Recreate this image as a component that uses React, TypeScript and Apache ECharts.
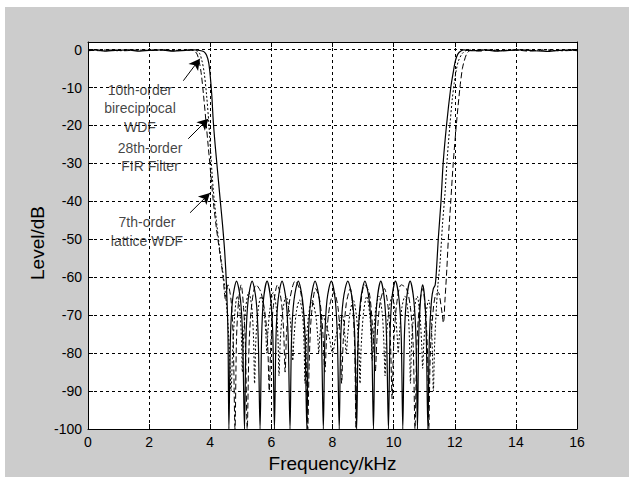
import { useEffect, useRef } from "react";
import * as echarts from "echarts";

// Frequency (kHz) / Level (dB) pairs
const solidCurve: [number, number][] = [
  [0, -0.3], [0.3, -0.1], [0.6, -0.4], [0.9, -0.2], [1.3, -0.1], [1.7, -0.4], [2.0, -0.2], [2.4, -0.1],
  [2.8, -0.4], [3.2, -0.2], [3.5, -0.1], [3.7, -0.3], [3.8, -0.6], [3.88, -1.5], [3.95, -3.5], [4.0, -7],
  [4.05, -12], [4.1, -19], [4.17, -26], [4.25, -33], [4.33, -40], [4.4, -46], [4.47, -53], [4.53, -62],
  [4.58, -75], [4.61, -100],
  [4.66, -76], [4.73, -66], [4.86, -61], [4.99, -66], [5.06, -76], [5.12, -100],
  [5.17, -76], [5.24, -66], [5.37, -61], [5.5, -66], [5.57, -76], [5.63, -100],
  [5.68, -76], [5.74, -66], [5.86, -61], [5.98, -66], [6.05, -76], [6.1, -100],
  [6.15, -76], [6.22, -66], [6.35, -61], [6.48, -66], [6.55, -76], [6.61, -100],
  [6.66, -76], [6.74, -66], [6.88, -61], [7.02, -66], [7.1, -76], [7.16, -100],
  [7.21, -76], [7.29, -66], [7.43, -61], [7.57, -66], [7.64, -76], [7.7, -100],
  [7.75, -76], [7.82, -66], [7.96, -61], [8.09, -66], [8.16, -76], [8.22, -100],
  [8.27, -76], [8.35, -66], [8.5, -61], [8.65, -66], [8.73, -76], [8.79, -100],
  [8.84, -76], [8.92, -66], [9.06, -61], [9.2, -66], [9.28, -76], [9.34, -100],
  [9.39, -76], [9.46, -66], [9.58, -61], [9.7, -66], [9.77, -76], [9.83, -100],
  [9.88, -76], [9.94, -66], [10.06, -61], [10.18, -66], [10.25, -76], [10.3, -100],
  [10.35, -76], [10.42, -66], [10.54, -61], [10.66, -66], [10.73, -76], [10.78, -100],
  [10.82, -76], [10.88, -66], [10.95, -62], [11.02, -66], [11.07, -76], [11.12, -100],
  [11.17, -76], [11.24, -66], [11.3, -63], [11.36, -62], [11.41, -57], [11.46, -50], [11.55, -40],
  [11.62, -30], [11.73, -20], [11.87, -10], [11.95, -6], [12.02, -3], [12.1, -1.2], [12.2, -0.4],
  [12.3, -0.1], [12.6, -0.3], [13.0, -0.1], [13.4, -0.4], [13.8, -0.2], [14.2, -0.1], [14.6, -0.3],
  [15.0, -0.5], [15.4, -0.2], [15.8, -0.1], [16, -0.3],
];

const dashedCurve: [number, number][] = [
  [0, -0.1], [0.4, -0.3], [0.8, -0.1], [1.2, -0.3], [1.6, -0.1], [2.0, -0.2], [2.4, -0.1], [2.8, -0.3],
  [3.1, -0.2], [3.35, -0.1], [3.45, -0.3], [3.55, -0.9], [3.62, -2.5], [3.7, -6], [3.78, -12],
  [3.86, -19], [3.94, -26], [4.02, -33], [4.1, -40], [4.2, -47], [4.32, -54], [4.42, -60], [4.5, -66],
  [4.58, -62], [4.68, -66], [4.75, -76], [4.81, -100], [4.86, -76], [4.93, -66], [5.01, -62], [5.09, -68],
  [5.15, -78], [5.21, -100], [5.27, -78], [5.36, -67], [5.5, -62], [5.66, -64], [5.8, -70], [5.88, -78],
  [5.93, -90], [5.98, -78], [6.06, -68], [6.2, -62], [6.32, -66], [6.4, -74], [6.45, -85], [6.5, -74],
  [6.6, -66], [6.78, -61], [6.96, -64], [7.08, -72], [7.14, -82], [7.19, -100], [7.24, -82], [7.31, -70],
  [7.45, -63], [7.58, -66], [7.68, -74], [7.75, -85], [7.82, -74], [7.92, -67], [8.05, -64], [8.18, -68],
  [8.26, -77], [8.3, -88], [8.35, -77], [8.45, -67], [8.58, -63], [8.68, -70], [8.73, -80], [8.77, -100],
  [8.82, -80], [8.9, -69], [9.05, -62], [9.2, -64], [9.3, -72], [9.36, -80], [9.4, -85], [9.45, -77],
  [9.55, -67], [9.7, -63], [9.82, -68], [9.9, -78], [9.95, -92], [10.0, -78], [10.1, -67], [10.25, -62],
  [10.42, -63], [10.55, -68], [10.64, -78], [10.7, -100], [10.76, -78], [10.85, -67], [10.95, -63],
  [11.05, -70], [11.11, -80], [11.15, -100], [11.2, -80], [11.28, -70], [11.36, -65], [11.46, -64],
  [11.56, -68], [11.63, -72], [11.68, -66], [11.74, -58], [11.79, -50], [11.87, -40], [11.95, -30],
  [12.05, -20], [12.17, -10], [12.25, -5], [12.31, -3], [12.4, -1], [12.52, -0.2], [12.8, -0.4],
  [13.2, -0.1], [13.6, -0.3], [14.0, -0.1], [14.4, -0.4], [14.8, -0.2], [15.2, -0.1], [15.6, -0.3], [16, -0.1],
];

const dottedCurve: [number, number][] = [
  [0, -0.2], [0.5, -0.1], [1.0, -0.3], [1.5, -0.1], [2.0, -0.2], [2.5, -0.1], [3.0, -0.2], [3.4, -0.1],
  [3.55, -0.3], [3.65, -1], [3.73, -3], [3.8, -6], [3.88, -12], [3.95, -19], [4.02, -28], [4.1, -37],
  [4.2, -45], [4.3, -52], [4.4, -58], [4.48, -63], [4.56, -70], [4.63, -80], [4.68, -90], [4.73, -80],
  [4.8, -70], [4.88, -65], [4.96, -68], [5.02, -76], [5.05, -85], [5.09, -76], [5.16, -68], [5.26, -64],
  [5.36, -68], [5.42, -77], [5.45, -88], [5.49, -77], [5.56, -69], [5.66, -65], [5.76, -69], [5.82, -75],
  [5.85, -80], [5.89, -74], [5.96, -68], [6.06, -64], [6.16, -68], [6.22, -77], [6.25, -86], [6.29, -77],
  [6.37, -69], [6.48, -65], [6.6, -70], [6.66, -76], [6.7, -82], [6.74, -76], [6.82, -69], [6.92, -66],
  [7.02, -70], [7.07, -78], [7.1, -88], [7.14, -78], [7.22, -70], [7.33, -66], [7.45, -70], [7.52, -76],
  [7.55, -80], [7.59, -75], [7.68, -70], [7.78, -72], [7.9, -76], [8.0, -80], [8.1, -76], [8.22, -72],
  [8.32, -70], [8.4, -75], [8.45, -80], [8.5, -75], [8.58, -69], [8.68, -66], [8.78, -70], [8.86, -78],
  [8.9, -88], [8.94, -78], [9.02, -69], [9.12, -65], [9.22, -70], [9.27, -77], [9.3, -82], [9.34, -76],
  [9.42, -68], [9.52, -65], [9.62, -69], [9.68, -77], [9.72, -86], [9.76, -77], [9.84, -69], [9.95, -65],
  [10.06, -70], [10.12, -76], [10.15, -80], [10.19, -75], [10.27, -68], [10.37, -65], [10.47, -69],
  [10.52, -77], [10.55, -88], [10.59, -77], [10.67, -69], [10.77, -65], [10.86, -70], [10.92, -78],
  [10.95, -84], [10.99, -77], [11.07, -69], [11.15, -66], [11.23, -72], [11.27, -80], [11.3, -90],
  [11.34, -78], [11.4, -68], [11.45, -62], [11.52, -56], [11.6, -46], [11.68, -38], [11.76, -28],
  [11.84, -20], [11.92, -13], [11.98, -9], [12.06, -5], [12.12, -3], [12.25, -1], [12.4, -0.2],
  [12.9, -0.1], [13.4, -0.3], [13.9, -0.1], [14.4, -0.2], [14.9, -0.1], [15.4, -0.3], [16, -0.1],
];

const annotationTexts = ["10th-order\nbireciprocal\nWDF", "28th-order\nFIR Filter", "7th-order\nlattice WDF"];
const annotationAnchors: [number, number][] = [[1.7, -15.4], [2.03, -28.3], [1.93, -47.9]];
const arrowTails: [number, number][] = [[3.12, -8.2], [3.28, -23.5], [3.34, -43]];
const arrowHeads: [number, number][] = [[3.66, -2.4], [3.94, -18.2], [3.99, -37.8]];

const xMin = 0, xMax = 16, xStep = 2;
const yMin = -100, yMax = 2, yStep = 10;
const xTitle = "Frequency/kHz";
const yTitle = "Level/dB";

const FONT = "'Liberation Sans', Arial, sans-serif";

export default function App() {
  const ref = useRef<HTMLDivElement>(null);
  useEffect(() => {
    const chart = echarts.init(ref.current!, null, { renderer: "svg" });
    const axisCommon = {
      axisLine: { show: true, onZero: false, lineStyle: { color: "#000", width: 1 } },
      axisTick: { show: true, inside: true, length: 5, lineStyle: { color: "#000" } },
    };
    chart.setOption({
      animation: false,
      backgroundColor: "transparent",
      textStyle: { fontFamily: FONT },
      grid: {
        left: 88, right: 52, top: 42, bottom: 48, show: true, backgroundColor: "#fff", borderWidth: 0,
        containLabel: false, outerBoundsMode: "none",
      },
      graphic: [
        {
          type: "text", x: 37, y: 243, rotation: Math.PI / 2, silent: true,
          style: { text: yTitle, fontSize: 19, fill: "#000", fontFamily: FONT, align: "center", verticalAlign: "middle" },
        },
      ],
      xAxis: [
        {
          type: "value", min: xMin, max: xMax, interval: xStep, position: "bottom",
          name: xTitle, nameLocation: "middle", nameGap: 25,
          nameTextStyle: { fontSize: 19, color: "#000", fontFamily: FONT },
          ...axisCommon,
          axisLabel: { fontSize: 14, color: "#000", margin: 6, fontFamily: FONT },
          splitLine: { show: true, lineStyle: { color: "#000", type: [3, 3], width: 1 } },
        },
        {
          type: "value", min: xMin, max: xMax, interval: xStep, position: "top",
          ...axisCommon, axisLabel: { show: false }, splitLine: { show: false },
        },
      ],
      yAxis: [
        {
          type: "value", min: yMin, max: yMax, interval: yStep, position: "left",
          ...axisCommon,
          axisLabel: {
            fontSize: 14, color: "#000", margin: 6, fontFamily: FONT,
            formatter: (v: number) => (v > 0 ? "" : String(v)),
          },
          splitLine: { show: true, lineStyle: { color: "#000", type: [3, 3], width: 1 } },
        },
        {
          type: "value", min: yMin, max: yMax, interval: yStep, position: "right",
          ...axisCommon, axisLabel: { show: false }, splitLine: { show: false },
        },
      ],
      series: [
        {
          type: "line", data: dottedCurve, symbol: "none", smooth: 0.3, clip: true,
          lineStyle: { color: "#000", width: 1, type: [2, 2] },
        },
        {
          type: "line", data: dashedCurve, symbol: "none", smooth: 0.3, clip: true,
          lineStyle: { color: "#000", width: 1, type: [6, 3] },
        },
        {
          type: "line", data: solidCurve, symbol: "none", smooth: 0.3, clip: true,
          lineStyle: { color: "#000", width: 1.2, type: "solid" },
          markLine: {
            silent: true, symbol: ["none", "arrow"], symbolSize: [9, 11],
            label: { show: false },
            lineStyle: { color: "#000", width: 1, type: "solid" },
            data: arrowTails.map((t, i) => [{ coord: t }, { coord: arrowHeads[i] }]),
          },
        },
        {
          type: "scatter", symbolSize: 0, silent: true,
          data: annotationAnchors.map((p, i) => ({ value: p, name: annotationTexts[i] })),
          label: {
            show: true, position: "inside", color: "#111", fontSize: 14, lineHeight: 18.5,
            fontFamily: FONT, align: "center", verticalAlign: "middle",
            formatter: (p: any) => p.name,
          },
        },
      ],
    });
    return () => chart.dispose();
  }, []);
  return (
    <div style={{ position: "fixed", left: 0, top: 0, width: 629, height: 477, background: "#fff" }}>
      <div style={{ position: "absolute", left: 5, top: 7, right: 0, bottom: 0, background: "#cccccc" }} />
      <div ref={ref} style={{ position: "absolute", left: 0, top: 0, width: 629, height: 477 }} />
    </div>
  );
}
